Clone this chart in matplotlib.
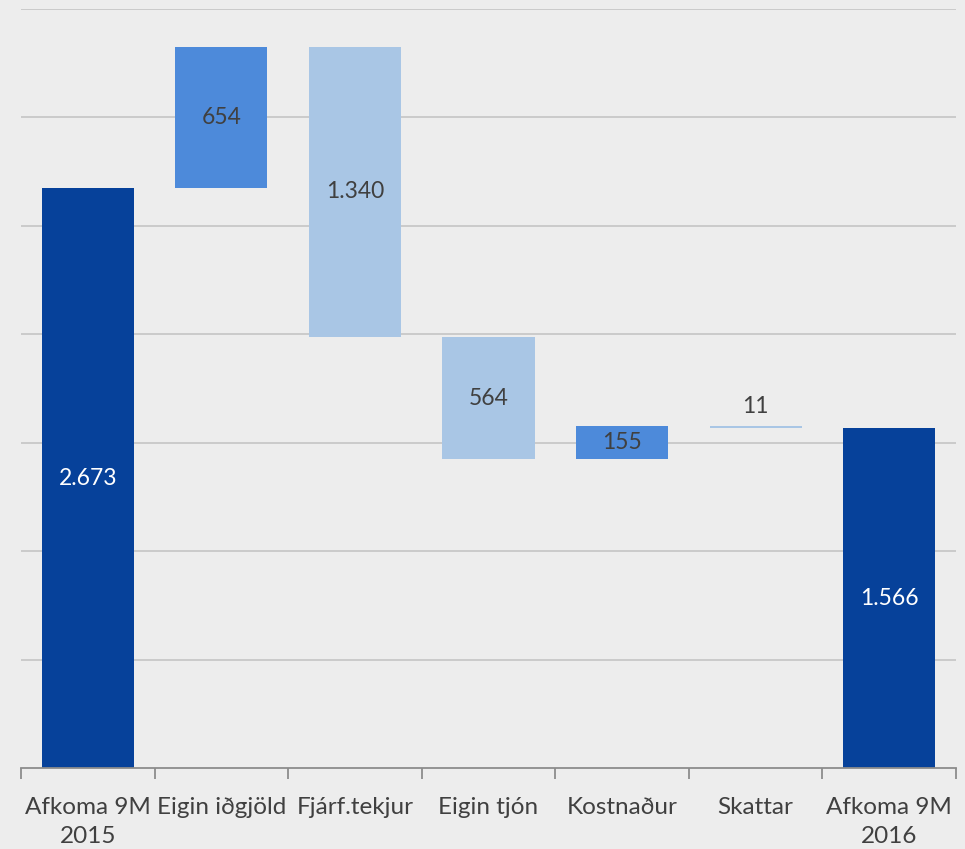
import matplotlib
matplotlib.use("Agg")
import matplotlib.pyplot as plt
import numpy as np

CATEGORIES = ["Afkoma 9M\n2015", "Eigin iðgjöld", "Fjárf.tekjur", "Eigin tjón",
              "Kostnaður", "Skattar", "Afkoma 9M\n2016"]
# signed changes between the two totals
START = 2673
CHANGES = [654, -1340, -564, 155, -11]
END = 1566
LABELS = ["2.673", "654", "1.340", "564", "155", "11", "1.566"]

DARK = "#06419A"
UP = "#4D8ADA"
DOWN = "#A9C6E5"
BG = "#EDEDED"

plt.rcParams["font.family"] = ["Lato", "DejaVu Sans"]


def main():
    n = len(CATEGORIES)
    bottoms, heights, colors = [0.0], [float(START)], [DARK]
    level = float(START)
    for c in CHANGES:
        new = level + c
        bottoms.append(min(level, new))
        heights.append(abs(c))
        colors.append(UP if c > 0 else DOWN)
        level = new
    bottoms.append(0.0)
    heights.append(float(END))
    colors.append(DARK)

    fig = plt.figure(figsize=(9.65, 8.49), dpi=100, facecolor=BG)
    ax = fig.add_axes([21 / 965, 1 - 768 / 849, 935 / 965, 759 / 849], facecolor=BG)

    x = np.arange(n)
    ax.bar(x, heights, bottom=bottoms, width=0.69, color=colors, zorder=2)

    for i in range(n):
        txt_col = "white" if colors[i] == DARK else "#404040"
        if heights[i] < 60:
            ax.text(x[i], bottoms[i] + heights[i] + 40, LABELS[i], ha="center", va="bottom",
                    fontsize=16.5, color=txt_col)
        else:
            ax.text(x[i], bottoms[i] + heights[i] / 2, LABELS[i], ha="center", va="center",
                    fontsize=16.5, color=txt_col)

    ax.set_xlim(-0.5, n - 0.5)
    ax.set_ylim(0, 3500)
    ax.set_yticks(np.arange(500, 3501, 500))
    ax.yaxis.grid(True, color="#C8C8C8", lw=1.3, zorder=0)
    ax.tick_params(axis="y", left=False, labelleft=False)
    for s in ("top", "right", "left"):
        ax.spines[s].set_visible(False)
    ax.spines["bottom"].set_color("#8C8C8C")
    ax.spines["bottom"].set_linewidth(1.3)

    # category boundary ticks
    ax.set_xticks(np.arange(-0.5, n, 1.0))
    ax.set_xticklabels([])
    ax.tick_params(axis="x", which="major", length=8, width=1.3, color="#8C8C8C")
    ax.set_xticks(x, minor=True)
    ax.set_xticklabels(CATEGORIES, minor=True, fontsize=17.5, color="#404040",
                       linespacing=1.45)
    ax.tick_params(axis="x", which="minor", length=0, pad=21)

    fig.savefig("out.png", dpi=100, facecolor=BG)


if __name__ == "__main__":
    main()
